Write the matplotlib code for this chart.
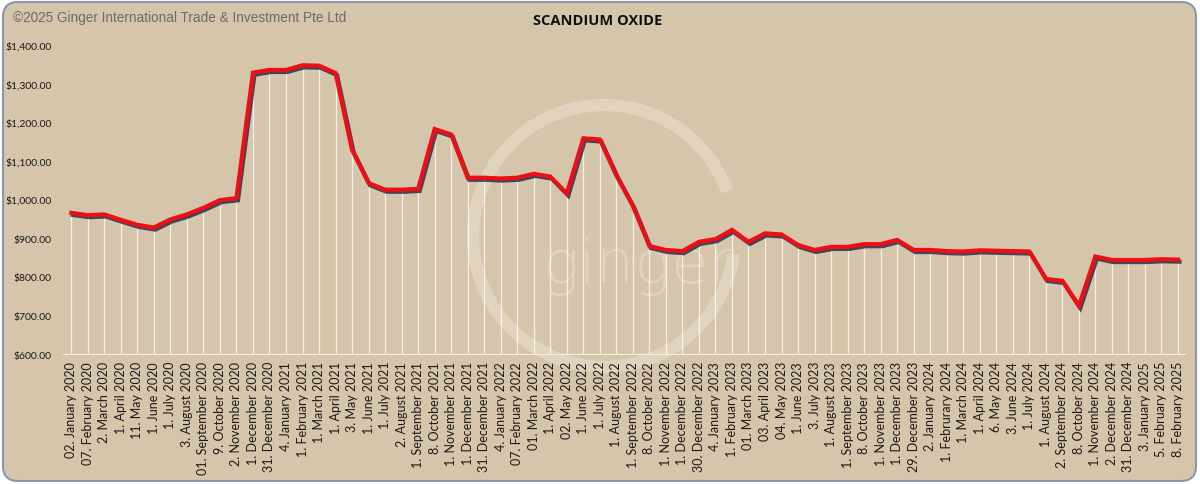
#-*- coding: utf-8 -*-

#-----------------------------------------------------#
# Grafico do preco do oxido de escandio (USD/kg)      #
#-----------------------------------------------------#

import numpy as np
import matplotlib.pyplot as plt
from matplotlib.patches import FancyBboxPatch, Arc
import matplotlib.patheffects as pe

#----------------------------------------------------------#
# Dados                                   #
#----------------------------------------------------------#
datas = ['02. January 2020', '07. February 2020', '2. March 2020', '1. April 2020',
         '11. May 2020', '1. June 2020', '1. July 2020', '3. August 2020',
         '01. September 2020', '9. October 2020', '2. November 2020', '1. December 2020',
         '31. December 2020', '4. January 2021', '1. February 2021', '1. March 2021',
         '1. April 2021', '3. May 2021', '1. June 2021', '1. July 2021',
         '2. August 2021', '1. September 2021', '8. October 2021', '1. November 2021',
         '1. December 2021', '31. December 2021', '4. January 2022', '07. February 2022',
         '01. March 2022', '1. April 2022', '02. May 2022', '1. June 2022',
         '1. July 2022', '1. August 2022', '1. September 2022', '8. October 2022',
         '1. November 2022', '1. December 2022', '30. December 2022', '4. January 2023',
         '1. February 2023', '01. March 2023', '03. April 2023', '04. May 2023',
         '1. June 2023', '3. July 2023', '1. August 2023', '1. September 2023',
         '8. October 2023', '1. November 2023', '1. December 2023', '29. December 2023',
         '2. January 2024', '1. Februrary 2024', '1. March 2024', '1. April 2024',
         '6. May 2024', '3. June 2024', '1. July 2024', '1. August 2024',
         '2. September 2024', '8. October 2024', '1. November 2024', '2. December 2024',
         '31. December 2024', '3. January 2025', '5. February 2025', '8. February 2025']

preco = [968, 962, 964, 950, 937, 930, 951, 964,
         981, 1001, 1006, 1331, 1338, 1338, 1350, 1349,
         1330, 1131, 1045, 1028, 1028, 1030, 1185, 1171,
         1059, 1059, 1057, 1059, 1069, 1062, 1018, 1161,
         1158, 1065, 986, 882, 872, 869, 893, 900,
         924, 893, 915, 912, 885, 872, 880, 880,
         887, 887, 898, 872, 872, 869, 868, 871,
         870, 869, 868, 797, 792, 727, 855, 846,
         846, 846, 848, 847]

yticks = [600, 700, 800, 900, 1000, 1100, 1200, 1300, 1400]

# cores
fundo = '#d5c6ab'
borda = '#8c96aa'
vermelho = '#ee0f15'
sombra = '#2c2c4a'

x = np.arange(len(preco))

#----------------------------------------------------------#
# Figura                                                   #
#----------------------------------------------------------#
fig = plt.figure(figsize=(12, 4.84), dpi=100)
fig.patch.set_facecolor('white')

# eixo de fundo em pixels: painel arredondado + marca d'agua
ax_bg = fig.add_axes([0, 0, 1, 1], zorder=0)
ax_bg.set_xlim(0, 1200)
ax_bg.set_ylim(484, 0)
ax_bg.axis('off')
painel = FancyBboxPatch((3, 2), 1193, 479, boxstyle='round,pad=0,rounding_size=15',
                        facecolor=fundo, edgecolor=borda, linewidth=1.5)
ax_bg.add_patch(painel)
anel = Arc((604, 236), 262, 262, theta1=8, theta2=340, linewidth=9,
           color='#ece3d2', alpha=0.5)
ax_bg.add_patch(anel)
ax_bg.text(638, 266, 'ginger', fontsize=44, color='#ece3d2', alpha=0.5,
           ha='center', va='center', family='DejaVu Sans', fontweight='light')

# eixo principal
ax = fig.add_axes([0.0525, 0.2665, 0.936, 0.6385], zorder=1)
ax.set_facecolor('none')
ax.set_xlim(-0.5, len(preco) - 0.5)
ax.set_ylim(600, 1400)

# linhas verticais
ax.vlines(x, 600, preco, colors='white', linewidth=0.9, alpha=0.75, zorder=1)

# linha de base
ax.axhline(600, color='#f6f0e2', linewidth=2.2, zorder=2)

# serie
ax.plot(x, preco, color=vermelho, linewidth=3.0, solid_joinstyle='miter', zorder=3,
        path_effects=[pe.SimpleLineShadow(offset=(1.1, -1.5), shadow_color=sombra, alpha=0.85),
                      pe.Normal()])

# eixos
for s in ax.spines.values():
    s.set_visible(False)
ax.tick_params(length=0)
ax.set_yticks(yticks)
ax.set_yticklabels(['${:,.2f}'.format(v) for v in yticks], fontsize=7.5,
                   family='Lato', color='#1a1a1a')
ax.tick_params(axis='y', pad=8)
ax.set_xticks(x)
ax.set_xticklabels(datas, rotation=90, fontsize=9, family='Lato', color='#1a1a1a')
ax.tick_params(axis='x', pad=5)

# textos
fig.text(0.011, 0.962, '\u00a92025 Ginger International Trade & Investment Pte Ltd',
         fontsize=9.8, family='Liberation Sans', color='#6b6b6b', va='center')
fig.text(0.498, 0.957, 'SCANDIUM OXIDE', fontsize=10.5, family='Open Sans',
         fontweight='bold', color='#111111', ha='center', va='center')

plt.savefig('out.png', dpi=100)
